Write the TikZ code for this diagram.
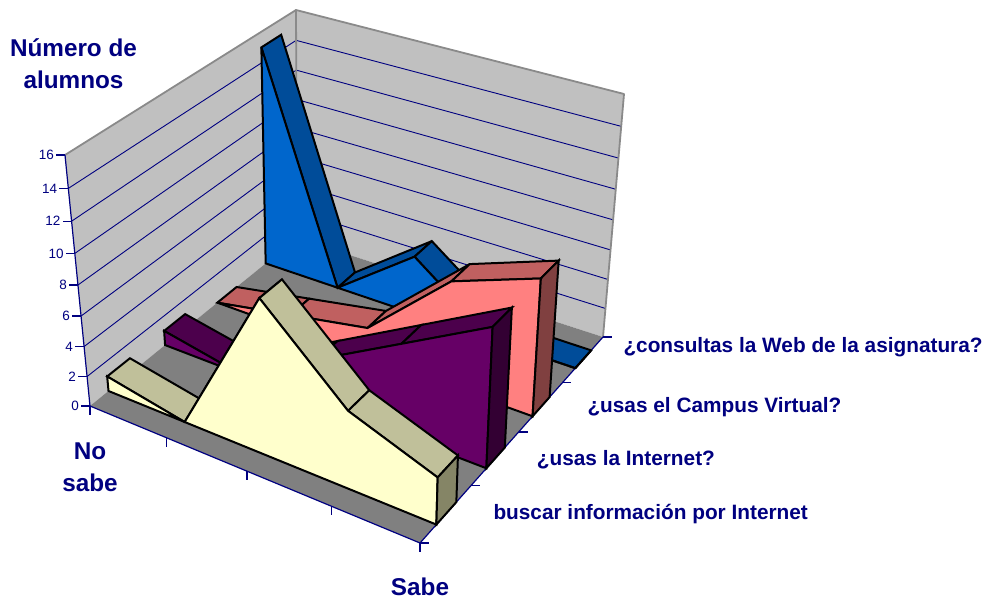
\documentclass[tikz,border=0pt]{standalone}
\usepackage{fontspec}
\setmainfont{Liberation Sans}
\definecolor{navy}{HTML}{000080}
\definecolor{wallc}{HTML}{C0C0C0}
\definecolor{floorc}{HTML}{808080}
\definecolor{edgec}{HTML}{8A8A8A}
\definecolor{yeF}{HTML}{FFFFCC}
\definecolor{yeT}{HTML}{C0C09A}
\definecolor{yeC}{HTML}{858566}
\definecolor{puF}{HTML}{660066}
\definecolor{puT}{HTML}{4C004C}
\definecolor{puC}{HTML}{330033}
\definecolor{saF}{HTML}{FF8080}
\definecolor{saT}{HTML}{C06060}
\definecolor{saC}{HTML}{804040}
\definecolor{blF}{HTML}{0066CC}
\definecolor{blT}{HTML}{004C99}
\definecolor{blC}{HTML}{003366}
% projection: #1 name, #2 category X (0..4), #3 depth Z (0..4), #4 value Y (0..16)
\newcommand{\defpt}[4]{%
  \pgfmathsetmacro{\pjU}{0.2269*(#2)/(1-0.0231*(#2))}%
  \pgfmathsetmacro{\pjT}{0.2923*(#3)/(1+0.0423*(#3))}%
  \pgfmathsetmacro{\pjR}{0.05816*(#4)/(1-0.00434*(#4))}%
  \pgfmathsetmacro{\pjFx}{90+330*\pjU+207*\pjT-24*\pjU*\pjT}%
  \pgfmathsetmacro{\pjFy}{406+137*\pjU-168*\pjT-38*\pjU*\pjT}%
  \pgfmathsetmacro{\pjTx}{65+361*\pjU+231*\pjT-33*\pjU*\pjT}%
  \pgfmathsetmacro{\pjTy}{155+119*\pjU-145*\pjT-35*\pjU*\pjT}%
  \pgfmathsetmacro{\pjX}{\pjFx+\pjR*(\pjTx-\pjFx)}%
  \pgfmathsetmacro{\pjY}{\pjFy+\pjR*(\pjTy-\pjFy)}%
  \coordinate (#1) at (\pjX,\pjY);%
}
% series: #1 prefix, #2 front depth, #3 back depth, #4..#8 values
\newcommand{\drawseries}[8]{%
  \defpt{#1f0}{0}{#2}{#4}\defpt{#1f1}{1}{#2}{#5}\defpt{#1f2}{2}{#2}{#6}%
  \defpt{#1f3}{3}{#2}{#7}\defpt{#1f4}{4}{#2}{#8}%
  \defpt{#1b0}{0}{#3}{#4}\defpt{#1b1}{1}{#3}{#5}\defpt{#1b2}{2}{#3}{#6}%
  \defpt{#1b3}{3}{#3}{#7}\defpt{#1b4}{4}{#3}{#8}%
  \defpt{#1F0}{0}{#2}{0}\defpt{#1F4}{4}{#2}{0}\defpt{#1B4}{4}{#3}{0}%
  \foreach \ka/\kb in {0/1,1/2,2/3,3/4}{%
    \filldraw[outl, fill=#1T] (#1f\ka)--(#1f\kb)--(#1b\kb)--(#1b\ka)--cycle;}
  \filldraw[outl, fill=#1F] (#1F0)--(#1f0)--(#1f1)--(#1f2)--(#1f3)--(#1f4)--(#1F4)--cycle;
  \filldraw[outl, fill=#1C] (#1F4)--(#1f4)--(#1b4)--(#1B4)--cycle;
}
\begin{document}
\begin{tikzpicture}[x=1pt,y=-1pt,
  outl/.style={draw=black,line width=2pt,line join=miter,miter limit=4},
  axisline/.style={navy,line width=1.2pt},
  gridline/.style={navy,line width=0.9pt},
  ticklabel/.style={text=navy,font=\fontsize{13.5}{16}\selectfont,inner sep=1.5pt},
  axtitle/.style={text=navy,font=\fontsize{24.3}{32}\selectfont\bfseries,align=center,inner sep=0pt},
  serlabel/.style={text=navy,font=\fontsize{20.8}{25}\selectfont\bfseries,inner sep=0pt,anchor=base west}]
\fill[white] (0,0) rectangle (985,601);
\useasboundingbox (0,0) rectangle (985,601);
% box corners
\defpt{A}{0}{0}{0}\defpt{B}{4}{0}{0}\defpt{C}{4}{4}{0}\defpt{D}{0}{4}{0}
\defpt{At}{0}{0}{16}\defpt{Ct}{4}{4}{16}\defpt{Dt}{0}{4}{16}
% walls
\fill[wallc] (A)--(At)--(Dt)--(D)--cycle;
\fill[wallc] (D)--(Dt)--(Ct)--(C)--cycle;
\foreach \gy in {2,4,...,14}{%
  \defpt{g1}{0}{0}{\gy}\defpt{g2}{0}{4}{\gy}\defpt{g3}{4}{4}{\gy}
  \draw[gridline] (g1)--(g2)--(g3);}
% floor
\fill[floorc] (A)--(B)--(C)--(D)--cycle;
\draw[edgec,line width=1.8pt,line join=round] (At)--(Dt)--(Ct)--(C);
\draw[edgec,line width=1.8pt] (Dt)--(D);
% axes
\draw[axisline] (At)--(A)--(B)--(C);
\foreach \gy in {0,2,...,16}{%
  \defpt{tk}{0}{0}{\gy}
  \draw[axisline] (tk)--++(-9,0) node[ticklabel,anchor=east]{\gy};}
\foreach \gx in {0,...,4}{%
  \defpt{tk}{\gx}{0}{0}
  \draw[axisline] (tk)--++(0,9);}
\foreach \gz in {0,...,4}{%
  \defpt{tk}{4}{\gz}{0}
  \draw[axisline] (tk)--++(9,0);}
% series, back to front
\drawseries{bl}{3.31}{3.70}{15}{0}{4}{0}{0}
\drawseries{sa}{2.31}{2.70}{0}{1}{2}{7}{9}
\drawseries{pu}{1.31}{1.70}{1}{0}{3}{6}{9}
\drawseries{ye}{0.31}{0.70}{1}{0}{10}{5}{3}
% titles (base anchor = baseline of last line)
\node[axtitle,anchor=base] (ttl) at (73.5,89) {Número de\\alumnos};
\node[axtitle,anchor=base] (nos) at (90,491) {No\\sabe};
\node[axtitle,anchor=base] (sab) at (420,595) {Sabe};
\node[serlabel] (s4) at (623.3,352.7) {¿consultas la Web de la asignatura?};
\node[serlabel] (s3) at (587.3,413) {¿usas el Campus Virtual?};
\node[serlabel] (s2) at (536.7,465) {¿usas la Internet?};
\node[serlabel] (s1) at (493.3,519.3) {buscar información por Internet};
\end{tikzpicture}
\end{document}
